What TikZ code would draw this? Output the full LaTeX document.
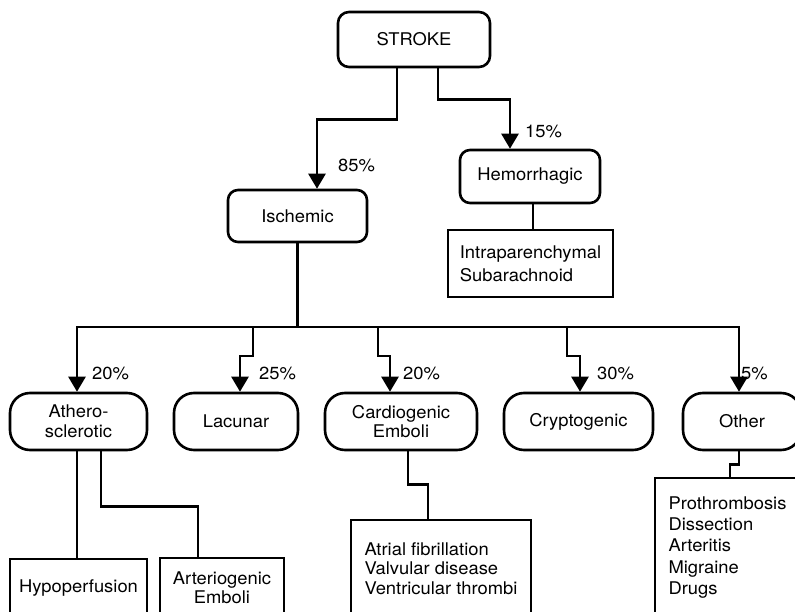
\documentclass[tikz,border=0pt]{standalone}
\usepackage{fontspec}
\setmainfont{TeX Gyre Heros}[FakeStretch=1.05]
\usetikzlibrary{arrows.meta}

\tikzset{
  wire/.style={line width=2.6pt},
  arr/.style={wire,-{Triangle[width=17pt,length=15pt]}},
  cat/.style={draw,line width=2.6pt,rounded corners=20pt,align=center,minimum height=57pt,inner sep=2pt},
  topcat/.style={cat,rounded corners=11pt},
  leaf/.style={draw,line width=2.6pt,align=left,inner sep=2pt},
  pct/.style={anchor=west,inner sep=0pt},
}

\begin{document}
\begin{tikzpicture}[x=1pt,y=-1pt,font=\fontsize{17.5}{19.5}\selectfont]
\clip (0,0) rectangle (795,612); % page frame
% top level
\node[topcat,minimum width=152pt,minimum height=55pt] (stroke) at (414,39.5) {STROKE};
\node[topcat,rounded corners=10pt,minimum width=139pt,minimum height=52pt] (isch) at (297.5,216) {Ischemic};
\node[topcat,rounded corners=10pt,minimum width=140pt,minimum height=53pt] (hem) at (530,176.5) {Hemorrhagic};
\node[leaf,minimum width=165pt,minimum height=67pt,font=\fontsize{17.5}{23}\selectfont] (hemlist) at (530.5,263.5) {Intraparenchymal\\Subarachnoid};
% ischemic subtypes
\node[cat,minimum width=137pt] (athero) at (78.5,421.5) {Athero-\\sclerotic};
\node[cat,minimum width=124pt] (lac) at (236,421.5) {Lacunar};
\node[cat,minimum width=152pt] (cardio) at (401,421.5) {Cardiogenic\\Emboli};
\node[cat,minimum width=149pt] (crypto) at (578.5,421.5) {Cryptogenic};
\node[cat,minimum width=118pt] (other) at (742,421.5) {Other};
% bottom boxes
\node[leaf,align=center,minimum width=137pt,minimum height=58pt] (hypo) at (78.5,588) {Hypoperfusion};
\node[leaf,align=center,minimum width=124pt,minimum height=59pt] (arterio) at (222,587.5) {Arteriogenic\\Emboli};
\node[leaf,minimum width=180pt,minimum height=97pt] (atrial) at (441,568.5) {Atrial fibrillation\\Valvular disease\\Ventricular thrombi};
\node[leaf,minimum width=145pt,minimum height=139pt,font=\fontsize{17.5}{21.3}\selectfont] (otherlist) at (727.5,547.5) {Prothrombosis\\Dissection\\Arteritis\\Migraine\\Drugs};
% connectors
\draw[arr] ([xshift=-17pt]stroke.south) -- ++(0,51) -| ([xshift=19.5pt]isch.north);
\draw[arr] ([xshift=24pt]stroke.south) -- ++(0,31) -| ([xshift=-20pt]hem.north);
\draw[wire] ([xshift=3pt]hem.south) -- ([xshift=3pt]hem.south |- hemlist.north);
\coordinate (busL) at (77,327);
\coordinate (busR) at (739,327);
\coordinate (jog) at (0,356);
\coordinate (tapLac) at (253,327);
\coordinate (tapCar) at (378,327);
\coordinate (tapCry) at (567,327);
\draw[wire] (isch.south) -- (isch.south |- busL);
\draw[arr] (busR) -- (busL) -- (athero.north -| busL);
\draw[arr] (busL) -- (busR) -- (other.north -| busR);
\draw[arr] (tapLac) -- (tapLac |- jog) -| ([xshift=4pt]lac.north);
\draw[arr] (tapCar) -- (tapCar |- jog) -| ([xshift=-11pt]cardio.north);
\draw[arr] (tapCry) -- (tapCry |- jog) -| ([xshift=1.5pt]crypto.north);
\draw[wire] ([xshift=-1.5pt]athero.south) -- ([xshift=-1.5pt]hypo.north);
\draw[wire] ([xshift=22.5pt]athero.south) -- ++(0,55) -| ([xshift=-24pt]arterio.north);
\draw[wire] ([xshift=7pt]cardio.south) -- ++(0,33) -| ([xshift=-13pt]atrial.north);
\draw[wire] ([xshift=-3pt]other.south) -- ++(0,13) -| ([xshift=2.5pt]otherlist.north);
% percentages
\node[pct] (pIsch) at (338,165) {85\%};
\node[pct] (pHem) at (525,131) {15\%};
\node[pct] (pAth) at (92,373) {20\%};
\node[pct] (pLac) at (259,373) {25\%};
\node[pct] (pCar) at (403,373) {20\%};
\node[pct] (pCry) at (597,373) {30\%};
\node[pct] (pOth) at (741,373) {5\%};
\end{tikzpicture}
\end{document}
